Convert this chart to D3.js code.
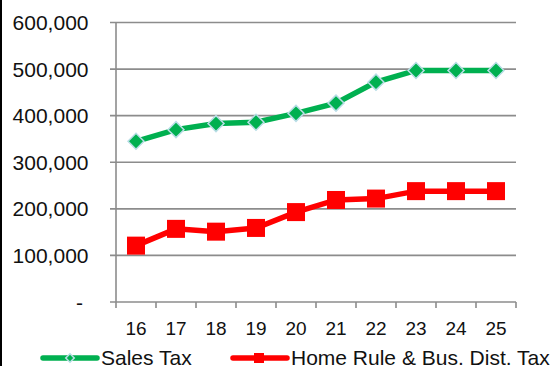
<!DOCTYPE html>
<html>
<head>
<meta charset="utf-8">
<script src="https://cdn.jsdelivr.net/npm/d3@7"></script>
<style>
  html, body { margin: 0; padding: 0; background: #fff; overflow: hidden; }
  svg { display: block; font-family: "Liberation Sans", Arial, sans-serif; }
</style>
</head>
<body>
<svg id="chart" width="560" height="366"></svg>
<script>
const categories = ["16", "17", "18", "19", "20", "21", "22", "23", "24", "25"];
const salesTax = [345000, 370000, 383000, 386000, 405000, 427000, 472000, 497000, 497000, 497000];
const homeRuleTax = [121000, 157000, 151000, 159000, 193000, 219000, 222000, 238000, 238000, 238000];
const yTicks = [0, 100000, 200000, 300000, 400000, 500000, 600000];
const seriesNames = ["Sales Tax", "Home Rule & Bus. Dist. Tax"];

(function () {
  const svg = d3.select("#chart");
  const H = 366;
  const plotLeft = 116, plotRight = 516, plotTop = 22.5, plotBottom = 302;

  // frame line on the left edge
  svg.append("line").attr("x1", 1).attr("x2", 1).attr("y1", 0).attr("y2", H)
    .attr("stroke", "#000").attr("stroke-width", 2);

  const x = d3.scaleBand().domain(categories).range([plotLeft, plotRight]);
  const y = d3.scaleLinear().domain([0, 600000]).range([plotBottom, plotTop]);
  const cx = i => x(categories[i]) + x.bandwidth() / 2;

  const gridColor = "#8c8c8c";

  // horizontal gridlines with outward ticks
  svg.append("g").selectAll("line").data(yTicks.filter(d => d > 0)).join("line")
    .attr("x1", plotLeft - 6).attr("x2", plotRight)
    .attr("y1", d => y(d)).attr("y2", d => y(d))
    .attr("stroke", gridColor).attr("stroke-width", 1.6);

  // axis lines
  svg.append("line").attr("x1", plotLeft).attr("x2", plotLeft).attr("y1", plotTop).attr("y2", plotBottom + 6)
    .attr("stroke", gridColor).attr("stroke-width", 1.6);
  svg.append("line").attr("x1", plotLeft - 6).attr("x2", plotRight).attr("y1", plotBottom).attr("y2", plotBottom)
    .attr("stroke", gridColor).attr("stroke-width", 1.6);

  // x tick marks at band boundaries
  const bounds = categories.slice(1).map(c => x(c)).concat([plotRight]);
  svg.append("g").selectAll("line").data(bounds).join("line")
    .attr("x1", d => d).attr("x2", d => d).attr("y1", plotBottom).attr("y2", plotBottom + 6)
    .attr("stroke", gridColor).attr("stroke-width", 1.6);

  // y labels
  const fmt = d => d === 0 ? "-" : d3.format(",")(d);
  svg.append("g").selectAll("text").data(yTicks).join("text")
    .attr("x", d => d === 0 ? 83 : 88.5).attr("y", d => y(d) + 7.5)
    .attr("text-anchor", "end").attr("font-size", 21).attr("fill", "#111")
    .text(fmt);

  // x labels
  svg.append("g").selectAll("text").data(categories).join("text")
    .attr("x", (d, i) => cx(i)).attr("y", 335)
    .attr("text-anchor", "middle").attr("font-size", 19).attr("fill", "#111")
    .text(d => d);

  const green = "#00b050", red = "#ff0000", diamondEdge = "#b9dde6";
  const line = d3.line().x((d, i) => cx(i)).y(d => y(d));

  // Home rule series
  svg.append("path").datum(homeRuleTax).attr("d", line)
    .attr("fill", "none").attr("stroke", red).attr("stroke-width", 5.5);
  svg.append("g").selectAll("rect").data(homeRuleTax).join("rect")
    .attr("x", (d, i) => cx(i) - 9)
    .attr("y", d => y(d) - 9).attr("width", 18).attr("height", 18)
    .attr("fill", red);

  // Sales tax series
  svg.append("path").datum(salesTax).attr("d", line)
    .attr("fill", "none").attr("stroke", green).attr("stroke-width", 5.5);
  svg.append("g").selectAll("path").data(salesTax).join("path")
    .attr("transform", (d, i) => `translate(${cx(i)},${y(d)}) rotate(45)`)
    .attr("d", d3.symbol().type(d3.symbolSquare).size(128))
    .attr("fill", green).attr("stroke", diamondEdge).attr("stroke-width", 1.5);

  // legend
  const leg = svg.append("g");
  const ly = 358;
  leg.append("line").attr("x1", 43).attr("x2", 97).attr("y1", ly).attr("y2", ly)
    .attr("stroke", green).attr("stroke-width", 5.5).attr("stroke-linecap", "round");
  leg.append("path").attr("transform", `translate(70,${ly}) rotate(45)`)
    .attr("d", d3.symbol().type(d3.symbolSquare).size(36))
    .attr("fill", green).attr("stroke", diamondEdge).attr("stroke-width", 1.5);
  leg.append("text").attr("x", 101).attr("y", 364.5).attr("font-size", 21).attr("fill", "#111")
    .text(seriesNames[0]);

  leg.append("line").attr("x1", 233).attr("x2", 287).attr("y1", ly).attr("y2", ly)
    .attr("stroke", red).attr("stroke-width", 5.5).attr("stroke-linecap", "round");
  leg.append("rect").attr("x", 254).attr("y", ly - 5).attr("width", 10).attr("height", 10).attr("fill", red);
  leg.append("text").attr("x", 291).attr("y", 364.5).attr("font-size", 21).attr("fill", "#111")
    .text(seriesNames[1]);
})();
</script>
</body>
</html>
